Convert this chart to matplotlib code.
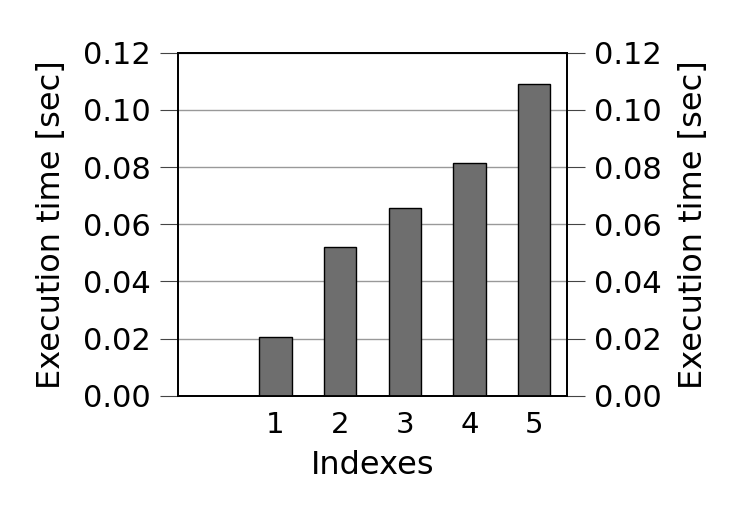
import numpy as np
import matplotlib.pyplot as plt

plt.rcParams['font.family'] = ['DejaVu Sans']

indexes = [1, 2, 3, 4, 5]
exec_time = [0.0206, 0.0521, 0.0656, 0.0813, 0.1090]
yticks = [0.00, 0.02, 0.04, 0.06, 0.08, 0.10, 0.12]

fig = plt.figure(figsize=(7.39, 5.12), dpi=100)
ax = fig.add_axes([0.2413, 0.2271, 0.5255, 0.67])

ax.bar(indexes, exec_time, width=0.5, color='#6e6e6e', edgecolor='black',
       linewidth=1.0, zorder=3)
ax.set_xlim(-0.5, 5.5)
ax.set_ylim(0, 0.12)
ax.set_xticks(indexes)
ax.set_yticks(yticks)
ax.set_yticklabels(['%.2f' % v for v in yticks])
ax.yaxis.grid(True, color='#999999', linewidth=1.0, zorder=0)
ax.tick_params(axis='x', length=0, pad=11, labelsize=21)
ax.tick_params(axis='y', length=13, width=0.8, color='#444444', pad=7,
               labelsize=22)
ax.set_xlabel('Indexes', fontsize=23, labelpad=8)
ax.set_ylabel('Execution time [sec]', fontsize=23, labelpad=11)
for s in ax.spines.values():
    s.set_linewidth(1.3)

ax2 = ax.twinx()
ax2.set_ylim(0, 0.12)
ax2.set_yticks(yticks)
ax2.set_yticklabels(['%.2f' % v for v in yticks])
ax2.tick_params(axis='y', length=13, width=0.8, color='#444444', pad=7,
                labelsize=22)
ax2.set_ylabel('Execution time [sec]', fontsize=23, labelpad=11)
for s in ax2.spines.values():
    s.set_linewidth(1.3)

fig.savefig('out.png', dpi=100)
